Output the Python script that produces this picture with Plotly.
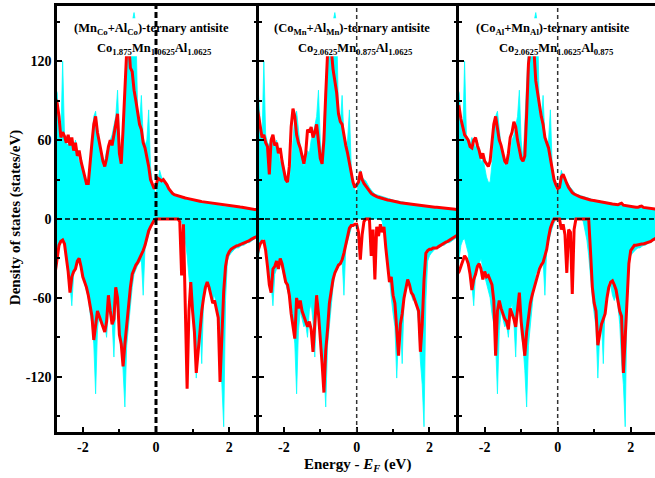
import plotly.graph_objects as go

# Energy grid relative to the Fermi level (eV)
energy = [
    -2.75, -2.70, -2.65, -2.60, -2.55, -2.50, -2.45, -2.40, -2.35, -2.30,
    -2.25, -2.20, -2.15, -2.10, -2.05, -2.00, -1.95, -1.90, -1.85, -1.80,
    -1.75, -1.70, -1.65, -1.60, -1.55, -1.50, -1.45, -1.40, -1.35, -1.30,
    -1.25, -1.20, -1.15, -1.10, -1.05, -1.00, -0.95, -0.90, -0.85, -0.80,
    -0.75, -0.70, -0.65, -0.60, -0.55, -0.50, -0.45, -0.40, -0.35, -0.30,
    -0.25, -0.20, -0.15, -0.10, -0.05, 0.00, 0.05, 0.10, 0.15, 0.20,
    0.25, 0.30, 0.35, 0.40, 0.45, 0.50, 0.55, 0.60, 0.65, 0.70,
    0.75, 0.80, 0.85, 0.90, 0.95, 1.00, 1.05, 1.10, 1.15, 1.20,
    1.25, 1.30, 1.35, 1.40, 1.45, 1.50, 1.55, 1.60, 1.65, 1.70,
    1.75, 1.80, 1.85, 1.90, 1.95, 2.00, 2.05, 2.10, 2.15, 2.20,
    2.25, 2.30, 2.35, 2.40, 2.45, 2.50, 2.55, 2.60, 2.65, 2.70,
    2.75,
]

# Stoichiometric Co2MnAl host (cyan, filled), spin up / spin down
host_up = [
    100, 96, 74, 62, 120, 64, 58, 56, 62, 57,
    54, 60, 50, 42, 47, 40, 32, 28, 28, 42,
    64, 78, 82, 68, 55, 48, 40, 44, 52, 50,
    60, 64, 70, 78, 98, 60, 44, 70, 105, 132,
    140, 136, 150, 157, 148, 80, 72, 94, 62, 56,
    60, 83, 40, 28, 22, 20, 28, 37, 32, 30,
    29, 26, 24, 22, 20, 19, 18.5, 18, 17.5, 17,
    16.5, 16, 15.5, 15, 14.8, 14.5, 14, 13.8, 13.5, 13.2,
    13, 12.6, 12.3, 12, 11.8, 11.5, 11.3, 11, 10.8, 10.5,
    10.3, 10, 9.8, 9.6, 9.5, 9.3, 9.2, 9, 8.9, 8.8,
    8.6, 8.5, 8.3, 8.1, 8, 7.8, 7.6, 7.4, 7.2, 7,
    6.8,
]
host_dn = [
    -50, -30, -20, -16, -15, -20, -26, -45, -50, -66,
    -42, -38, -34, -30, -38, -44, -48, -54, -60, -72,
    -80, -95, -133, -85, -70, -76, -82, -80, -90, -70,
    -64, -78, -105, -66, -55, -88, -96, -115, -143, -96,
    -80, -65, -52, -42, -38, -35, -33, -31, -58, -22,
    -17, -11, -7, -3, 0, 0, 0, 0, 0, 0,
    0, 0, 0, 0, 0, 0, 0, 0, 0, -2,
    -8, -16, -28, -48, -60, -72, -82, -121, -88, -76,
    -110, -62, -54, -47, -50, -58, -62, -58, -66, -80,
    -108, -126, -158, -62, -32, -28, -26, -24, -23, -22,
    -22, -21, -20, -20, -19, -18, -18, -17, -16, -15,
    -14,
]

# (MnCo+AlCo) ternary antisite, spin up / spin down
mnal_up = [
    92, 88, 78, 62, 66, 63, 58, 64, 56, 62,
    52, 58, 48, 52, 44, 38, 32, 27, 27, 40,
    58, 72, 78, 66, 58, 52, 44, 40, 46, 55,
    60, 56, 64, 75, 80, 50, 42, 68, 100, 128,
    136, 115, 112, 98, 90, 82, 72, 68, 58, 54,
    48, 40, 30, 26, 23, 25, 31, 30, 29, 30,
    28, 26, 23, 21, 19.5, 18.5, 18, 17.5, 17, 16.8,
    16.3, 16, 15.7, 15.3, 15, 14.6, 14.4, 14, 13.8, 13.5,
    13.2, 13, 12.7, 12.5, 12.2, 12, 11.8, 11.6, 11.3, 11,
    10.8, 10.6, 10.4, 10.2, 10, 9.8, 9.6, 9.5, 9.4, 9.3,
    9.2, 9.1, 9, 8.8, 8.6, 8.4, 8.2, 8, 7.6, 7.2,
    7,
]
mnal_dn = [
    -40, -28, -20, -17, -16, -19, -30, -40, -56, -44,
    -40, -38, -32, -30, -36, -44, -48, -52, -58, -66,
    -74, -92, -80, -70, -74, -78, -82, -86, -78, -58,
    -70, -80, -76, -52, -60, -88, -95, -112, -95, -80,
    -66, -52, -42, -38, -35, -33, -30, -28, -24, -20,
    -14, -9, -6, -3, -1, 0, 0, 0, 0, 0,
    0, 0, 0, 0, 0, 0, 0, 0, -2, -43,
    -4, -80, -129, -70, -48, -70, -86, -117, -100, -82,
    -70, -60, -52, -48, -52, -58, -64, -62, -70, -75,
    -124, -90, -55, -36, -28, -25, -23, -22, -21, -20.5,
    -20, -19.5, -19, -18, -17.5, -17, -16.5, -15.5, -14.5, -14,
    -13.5,
]

# (CoMn+AlMn) ternary antisite, spin up / spin down
coal_up = [
    88, 80, 72, 62, 64, 58, 55, 34, 60, 64,
    56, 58, 50, 54, 44, 36, 30, 28, 40, 70,
    84, 78, 64, 58, 54, 48, 42, 50, 68, 66,
    70, 62, 66, 72, 60, 46, 42, 60, 95, 126,
    132, 130, 114, 104, 96, 80, 74, 72, 62, 56,
    50, 42, 35, 28, 24, 26, 28, 36, 30, 27,
    25, 23, 21, 19.5, 18.5, 17.5, 17, 16.5, 16, 15.6,
    15.2, 14.8, 14.5, 14.2, 13.8, 13.5, 13.2, 13, 12.7, 12.4,
    12.2, 12, 11.8, 11.6, 11.3, 11, 11.2, 10.8, 10.5, 10.3,
    10.2, 10, 9.8, 9.6, 9.4, 9.3, 9.2, 9.1, 9, 8.9,
    8.8, 8.6, 8.4, 8.2, 8.1, 8, 7.9, 7.8, 8, 7.5,
    7,
]
coal_dn = [
    -30, -23, -19, -17, -17, -24, -36, -50, -56, -38,
    -36, -32, -38, -30, -34, -42, -48, -50, -58, -72,
    -80, -91, -60, -68, -62, -70, -74, -78, -82, -78,
    -84, -101, -80, -58, -72, -88, -110, -132, -100, -84,
    -64, -55, -46, -41, -38, -35, -34, -31, -26, -20,
    -13, -7, -5, -5, -4, -4, -10, -31, -12, -2,
    0, 0, 0, -28, -8, -46, -6, -13, -4, -10,
    -6, -22, -35, -48, -44, -58, -64, -85, -104, -80,
    -72, -60, -54, -46, -50, -56, -58, -62, -66, -70,
    -101, -80, -46, -26, -24, -23, -23, -22, -22, -22,
    -21, -20, -19, -18, -17.5, -17, -16, -15, -14, -13,
    -12.5,
]

# (CoAl+MnAl) ternary antisite, spin up / spin down
comn_up = [
    84, 85, 76, 70, 64, 62, 60, 55, 54, 60,
    62, 56, 52, 46, 50, 44, 42, 40, 44, 58,
    72, 78, 68, 60, 56, 50, 44, 42, 50, 62,
    66, 74, 70, 60, 54, 46, 44, 48, 80, 118,
    130, 135, 128, 105, 96, 86, 78, 72, 62, 58,
    54, 46, 36, 30, 26, 23, 24, 32, 34, 30,
    27, 24, 21.5, 20, 19, 18.2, 17.5, 17, 16.5, 16,
    15.6, 15.2, 14.8, 14.5, 14.2, 13.9, 13.6, 13.3, 13, 12.8,
    12.5, 12.3, 12, 11.8, 11.6, 11.4, 11.2, 11, 10.8, 11.5,
    12, 10.5, 10.2, 10, 9.8, 9.6, 9.4, 9.2, 9, 8.9,
    9.5, 9.8, 8.8, 8.6, 8.4, 8.2, 8, 7.8, 7.6, 7.4,
    7.2,
]
comn_dn = [
    -42, -40, -36, -32, -28, -30, -34, -42, -54, -46,
    -42, -36, -34, -38, -46, -40, -44, -43, -46, -50,
    -62, -104, -70, -62, -68, -72, -76, -78, -84, -68,
    -72, -76, -82, -70, -56, -78, -90, -104, -86, -74,
    -64, -58, -53, -47, -42, -38, -35, -33, -28, -23,
    -14, -7, -3, 0, 0, 0, 0, -8, -4, -12,
    -41, -8, -10, -57, -8, 0, 0, 0, 0, 0,
    0, 0, 0, -25, -52, -64, -70, -96, -88, -80,
    -76, -72, -60, -52, -48, -47, -50, -54, -62, -70,
    -74, -117, -90, -62, -34, -24, -22, -20, -20, -19.5,
    -19, -19, -19, -18.5, -18.5, -18, -17, -16, -15, -14.5,
    -14,
]

line1 = [
    "(Mn<sub>Co</sub>+Al<sub>Co</sub>)-ternary antisite",
    "(Co<sub>Mn</sub>+Al<sub>Mn</sub>)-ternary antisite",
    "(Co<sub>Al</sub>+Mn<sub>Al</sub>)-ternary antisite",
]
line2 = [
    "Co<sub>1.875</sub>Mn<sub>1.0625</sub>Al<sub>1.0625</sub>",
    "Co<sub>2.0625</sub>Mn<sub>0.875</sub>Al<sub>1.0625</sub>",
    "Co<sub>2.0625</sub>Mn<sub>1.0625</sub>Al<sub>0.875</sub>",
]
x_ticks = [-2, 0, 2]
y_ticks = [-120, -60, 0, 60, 120]

CYAN = "#00FFFF"
RED = "#FF0000"
FONT = "Liberation Serif"

W, H = 655, 478
ML, MR, MT, MB = 57, 0, 6, 46
pw = W - ML - MR
LW = 2.5
# pixel extents of the three panels (interior), spines shared between them
px_edges = [(57, 256.25), (258.75, 456.25), (458.75, 655)]
domains = [[(a - ML) / pw, (b - ML) / pw] for a, b in px_edges]
xranges = [[-2.705, 2.739], [-2.69, 2.735], [-2.71, 2.666]]
yrange = [-162, 162]
label_box_x = [-1.95, 2.0]
label_box_y = [123.8, 152.7]

fig = go.Figure()
antisite = [(mnal_up, mnal_dn), (coal_up, coal_dn), (comn_up, comn_dn)]
for i, (up, dn) in enumerate(antisite):
    xa = "x" if i == 0 else f"x{i + 1}"
    ya = "y" if i == 0 else f"y{i + 1}"
    for host in (host_up, host_dn):
        fig.add_trace(go.Scatter(
            x=energy, y=host, mode="lines", fill="tozeroy",
            fillcolor=CYAN, line=dict(color=CYAN, width=0.8),
            xaxis=xa, yaxis=ya, showlegend=False, hoverinfo="skip"))
    for spin in (up, dn):
        fig.add_trace(go.Scatter(
            x=energy, y=spin, mode="lines",
            line=dict(color=RED, width=3),
            xaxis=xa, yaxis=ya, showlegend=False, hoverinfo="skip"))
    # white background behind the composition label
    bx0, bx1 = label_box_x
    by0, by1 = label_box_y
    fig.add_trace(go.Scatter(
        x=[bx0, bx1, bx1, bx0, bx0], y=[by0, by0, by1, by1, by0],
        mode="lines", fill="toself", fillcolor="white",
        line=dict(color="white", width=0),
        xaxis=xa, yaxis=ya, showlegend=False, hoverinfo="skip"))

tickfont = dict(family=FONT, size=14, color="black", weight="bold")
layout = dict(
    width=W, height=H, margin=dict(l=ML, r=MR, t=MT, b=MB),
    paper_bgcolor="white", plot_bgcolor="white", showlegend=False,
)
for i in range(3):
    sx = "" if i == 0 else str(i + 1)
    layout[f"xaxis{sx}"] = dict(
        domain=domains[i], range=xranges[i], anchor=f"y{sx}",
        showline=True, linecolor="black", linewidth=LW, mirror=True,
        ticks="inside", ticklen=5, tickwidth=2, tickcolor="black",
        tickvals=x_ticks, ticktext=[str(v) for v in x_ticks],
        minor=dict(dtick=1, tick0=0, ticks="inside", ticklen=3,
                   tickwidth=2, tickcolor="black"),
        tickfont=tickfont, showgrid=False, zeroline=False,
    )
    layout[f"yaxis{sx}"] = dict(
        domain=[0, 1], range=yrange, anchor=f"x{sx}",
        showline=True, linecolor="black", linewidth=LW,
        mirror="allticks" if i < 2 else False,
        ticks="inside", ticklen=5, tickwidth=2, tickcolor="black",
        tickvals=y_ticks, ticktext=[str(v) for v in y_ticks],
        minor=dict(dtick=30, tick0=0, ticks="inside", ticklen=3,
                   tickwidth=2, tickcolor="black"),
        tickfont=tickfont, showticklabels=(i == 0),
        showgrid=False, zeroline=False,
    )
fig.update_layout(**layout)

shapes = []
annotations = []
for i in range(3):
    sx = "" if i == 0 else str(i + 1)
    # Fermi level
    shapes.append(dict(type="line", xref=f"x{sx}", yref="paper",
                       x0=0, x1=0, y0=0, y1=1, layer="above",
                       line=dict(color="black" if i == 0 else "#333333",
                                 width=3 if i == 0 else 1.5,
                                 dash="6px,3px" if i == 0 else "4px,3px")))
    annotations.append(dict(
        xref=f"x{sx}", yref=f"y{sx}", x=-0.12, y=144.3, text=line1[i],
        showarrow=False, xanchor="center", yanchor="middle",
        font=dict(family=FONT, size=12.5, color="black", weight="bold")))
    annotations.append(dict(
        xref=f"x{sx}", yref=f"y{sx}", x=-0.04, y=129.2, text=line2[i],
        showarrow=False, xanchor="center", yanchor="middle",
        font=dict(family=FONT, size=12.5, color="black", weight="bold")))

# zero line shared by the three panels
shapes.append(dict(type="line", xref="paper", yref="y", x0=0, x1=1,
                   y0=0, y1=0, layer="above",
                   line=dict(color="black", width=1.5, dash="5px,3px")))

annotations.append(dict(
    xref="paper", yref="paper", x=(357 - ML) / pw, y=-(465 - 432) / 426,
    text="Energy - <i>E<sub>F</sub></i> (eV)", showarrow=False,
    xanchor="center", yanchor="middle",
    font=dict(family=FONT, size=15, color="black", weight="bold")))
annotations.append(dict(
    xref="paper", yref="paper", x=-(ML - 15) / pw, y=0.502,
    text="Density of states (states/eV)", showarrow=False, textangle=-90,
    xanchor="center", yanchor="middle",
    font=dict(family=FONT, size=15, color="black", weight="bold")))

fig.update_layout(shapes=shapes, annotations=annotations)
fig.write_html("out.html")
